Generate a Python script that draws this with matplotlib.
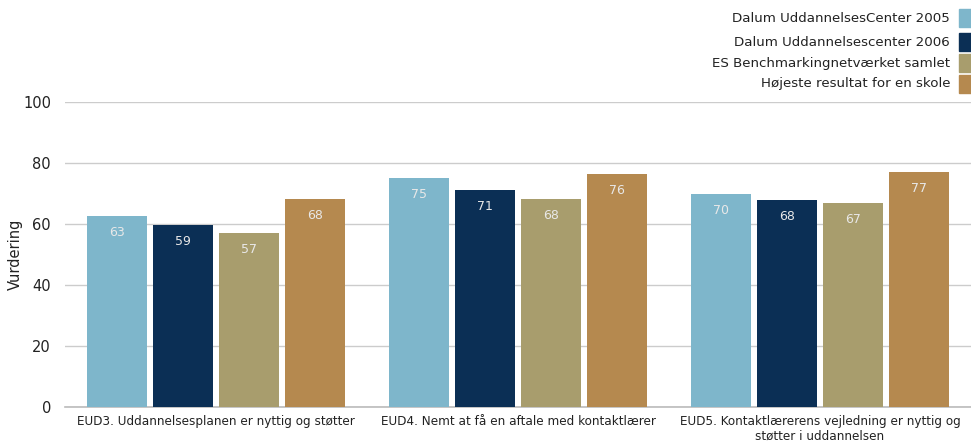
import matplotlib
matplotlib.use("Agg")
import matplotlib.pyplot as plt
from matplotlib.patches import Rectangle
import numpy as np

categories = ["EUD3. Uddannelsesplanen er nyttig og støtter",
              "EUD4. Nemt at få en aftale med kontaktlærer",
              "EUD5. Kontaktlærerens vejledning er nyttig og\nstøtter i uddannelsen"]
series_names = ["Dalum UddannelsesCenter 2005",
                "Dalum Uddannelsescenter 2006",
                "ES Benchmarkingnetværket samlet",
                "Højeste resultat for en skole"]
values = [
    [62.6, 75.1, 69.8],
    [59.6, 71.1, 67.9],
    [57.0, 68.2, 66.9],
    [68.2, 76.4, 77.0],
]
labels = [
    ["63", "75", "70"],
    ["59", "71", "68"],
    ["57", "68", "67"],
    ["68", "76", "77"],
]
colors = ["#7EB6CB", "#0B2F55", "#A89D6D", "#B5894F"]

plt.rcParams['font.family'] = ['DejaVu Sans']
fig = plt.figure(figsize=(9.71, 4.45), dpi=100)
ax = fig.add_axes([0.0669, 0.0854, 0.9331, 0.6854])

x = np.arange(len(categories))
step = 0.2185
width = 0.199
for i, (vals, labs, c) in enumerate(zip(values, labels, colors)):
    pos = x + (i - 1.5) * step
    bars = ax.bar(pos, vals, width=width, color=c, zorder=3)
    for b, lab in zip(bars, labs):
        ax.text(b.get_x() + b.get_width() / 2, b.get_height() - 5.3, lab,
                ha='center', va='center', color='#E8E8E8', fontsize=9, zorder=4)

ax.set_xlim(-0.5, 2.5)
ax.set_ylim(0, 100)
ax.set_yticks([0, 20, 40, 60, 80, 100])
ax.yaxis.grid(True, color='#CCCCCC', linewidth=1, zorder=0)
ax.set_axisbelow(True)
for s in ['left', 'right', 'top']:
    ax.spines[s].set_visible(False)
ax.spines['bottom'].set_color('#BBBBBB')
ax.spines['bottom'].set_linewidth(1.2)
ax.tick_params(axis='y', length=0, labelsize=10.5, colors='#222222', pad=10)
ax.tick_params(axis='x', length=0, colors='#222222', pad=6)
ax.set_xticks(x)
ax.set_xticklabels(categories, fontsize=9.6, fontstretch='condensed', linespacing=1.15)
ax.set_ylabel("Vurdering", fontsize=10.5, color='#222222')
ax.yaxis.set_label_coords(-42 / 906, 0.5)

# custom legend (top right)
ys = [18, 42, 63, 84]
for name, c, yp in zip(series_names, colors, ys):
    fig.text(950 / 971, 1 - yp / 445, name, ha='right', va='center', fontsize=9.6, color='#222222')
    fig.patches.append(Rectangle((959 / 971, 1 - (yp + 9) / 445), 12 / 971, 18 / 445,
                                 transform=fig.transFigure, color=c, figure=fig))

fig.savefig("out.png", dpi=100)
